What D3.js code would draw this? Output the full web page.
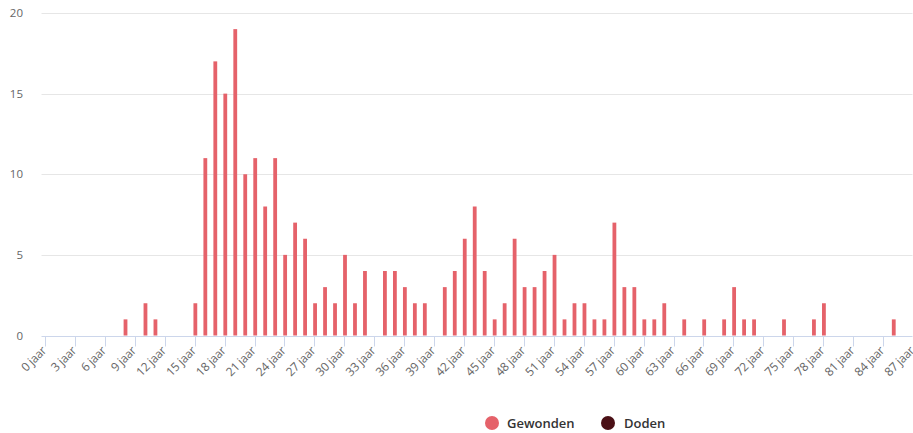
<!DOCTYPE html>
<html>
<head>
<meta charset="utf-8">
<script src="https://cdn.jsdelivr.net/npm/d3@7"></script>
<style>
  html, body { margin: 0; padding: 0; background: #fff; }
  svg { display: block; font-family: "Open Sans", "DejaVu Sans", sans-serif; }
</style>
</head>
<body>
<svg id="chart" width="913" height="433"></svg>
<script>
// Categories: ages 0..87
const ages = d3.range(0, 88);
const categories = ages.map(a => a + " jaar");

// Gewonden (injured) per age
const gewonden = [
  0, 0, 0, 0, 0, 0, 0, 0, 1, 0,   // 0-9
  2, 1, 0, 0, 0, 2, 11, 17, 15, 19, // 10-19
  10, 11, 8, 11, 5, 7, 6, 2, 3, 2,  // 20-29
  5, 2, 4, 0, 4, 4, 3, 2, 2, 0,     // 30-39
  3, 4, 6, 8, 4, 1, 2, 6, 3, 3,     // 40-49
  4, 5, 1, 2, 2, 1, 1, 7, 3, 3,     // 50-59
  1, 1, 2, 0, 1, 0, 1, 0, 1, 3,     // 60-69
  1, 1, 0, 0, 1, 0, 0, 1, 2, 0,     // 70-79
  0, 0, 0, 0, 0, 1, 0, 0            // 80-87
];
// Doden (killed) per age: none visible
const doden = ages.map(() => 0);

const yTicks = [0, 5, 10, 15, 20];
const xTickEvery = 3;

const seriesNames = ["Gewonden", "Doden"];
const seriesColors = ["#e5626a", "#4b1016"];

const svg = d3.select("#chart");
const plotLeft = 41.5, plotRight = 912.5;

const x = d3.scaleBand()
  .domain(categories)
  .range([40, 918])
  .paddingInner(0).paddingOuter(0);

const y = d3.scaleLinear().domain([0, 20]).range([335.5, 13]);

// gridlines
svg.append("g").selectAll("line")
  .data(yTicks.filter(t => t > 0))
  .join("line")
  .attr("x1", plotLeft).attr("x2", plotRight)
  .attr("y1", d => Math.round(y(d)) + 0.5).attr("y2", d => Math.round(y(d)) + 0.5)
  .attr("stroke", "#e6e6e6").attr("stroke-width", 1);

// y labels
svg.append("g").selectAll("text")
  .data(yTicks)
  .join("text")
  .attr("x", 23).attr("y", d => y(d) + 4)
  .attr("text-anchor", "end")
  .attr("font-size", 11.5)
  .attr("fill", "#666")
  .text(d => d);

// bars
const barW = 3.8;
const g = svg.append("g");
g.selectAll("rect.gew")
  .data(gewonden.map((v, i) => ({ v, c: categories[i] })).filter(d => d.v > 0))
  .join("rect")
  .attr("class", "gew")
  .attr("x", d => x(d.c) + x.bandwidth() / 2 + 0.7 - barW / 2)
  .attr("width", barW)
  .attr("y", d => y(d.v))
  .attr("height", d => y(0) - y(d.v))
  .attr("fill", seriesColors[0]);
g.selectAll("rect.dod")
  .data(doden.map((v, i) => ({ v, c: categories[i] })).filter(d => d.v > 0))
  .join("rect")
  .attr("class", "dod")
  .attr("x", d => x(d.c) + x.bandwidth() / 2 + 0.7 + barW / 2)
  .attr("width", barW)
  .attr("y", d => y(d.v))
  .attr("height", d => y(0) - y(d.v))
  .attr("fill", seriesColors[1]);

// x axis line
const axisY = Math.round(y(0)) + 0.5;
svg.append("line")
  .attr("x1", plotLeft).attr("x2", plotRight)
  .attr("y1", axisY).attr("y2", axisY)
  .attr("stroke", "#ccd6eb").attr("stroke-width", 1);

const tickCats = categories.filter((c, i) => i % xTickEvery === 0);
const cx = c => x(c) + x.bandwidth() / 2;

svg.append("g").selectAll("line")
  .data(tickCats.filter(c => cx(c) <= plotRight))
  .join("line")
  .attr("x1", c => Math.round(cx(c)) + 0.5).attr("x2", c => Math.round(cx(c)) + 0.5)
  .attr("y1", axisY).attr("y2", axisY + 10)
  .attr("stroke", "#ccd6eb").attr("stroke-width", 1);

svg.append("g").selectAll("text")
  .data(tickCats)
  .join("text")
  .attr("transform", c => `translate(${cx(c) + 2},${axisY + 15}) rotate(-45)`)
  .attr("text-anchor", "end")
  .attr("font-size", 12)
  .attr("letter-spacing", -0.3)
  .attr("fill", "#666")
  .text(c => c);

// legend
const legend = svg.append("g");
const legendItems = [
  { name: seriesNames[0], color: seriesColors[0], cx: 492, tx: 507 },
  { name: seriesNames[1], color: seriesColors[1], cx: 608, tx: 624 }
];
legend.selectAll("circle")
  .data(legendItems).join("circle")
  .attr("cx", d => d.cx).attr("cy", 423)
  .attr("r", 7)
  .attr("fill", d => d.color);
legend.selectAll("text")
  .data(legendItems).join("text")
  .attr("x", d => d.tx).attr("y", 428)
  .attr("font-size", 13)
  .attr("font-weight", 600)
  .attr("fill", "#333")
  .text(d => d.name);
</script>
</body>
</html>
